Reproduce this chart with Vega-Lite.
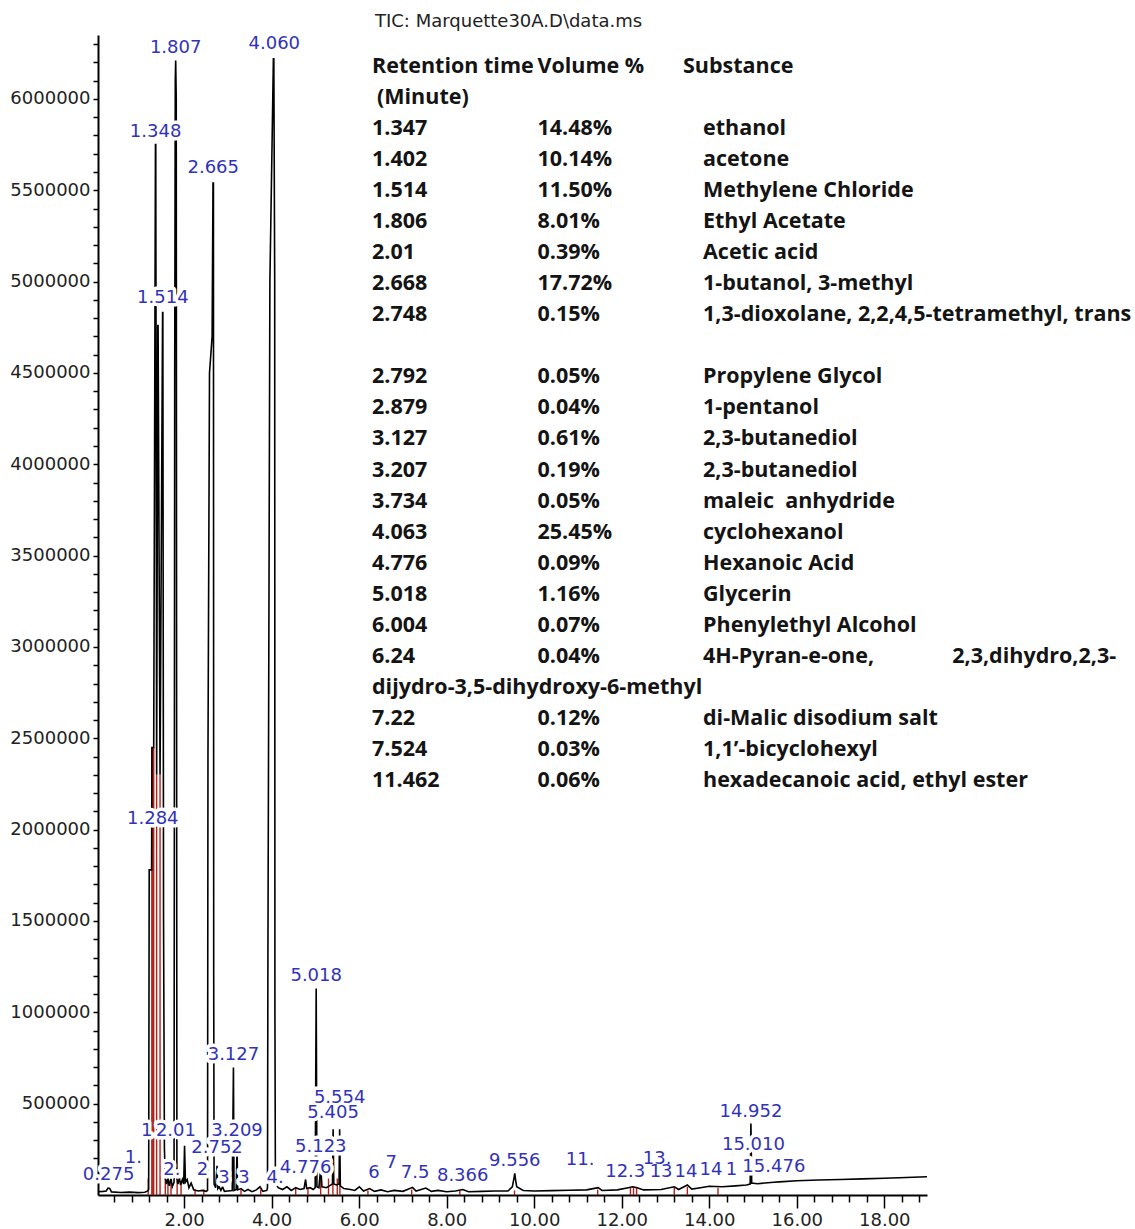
{
  "$schema": "https://vega.github.io/schema/vega-lite/v6.json",
  "width": 829,
  "height": 1160,
  "autosize": {"type": "none"},
  "padding": {"left": 98, "top": 35, "right": 208, "bottom": 34},
  "background": "white",
  "config": {"view": {"stroke": null}},
  "title": {
    "text": "TIC: Marquette30A.D\\data.ms",
    "anchor": "start",
    "frame": "group",
    "dx": 277,
    "offset": 4,
    "font": "DejaVu Sans",
    "fontSize": 18,
    "fontWeight": "normal",
    "color": "#222222"
  },
  "datasets": {
    "signal": [
      {"rt": 0.032, "tic": 18000}, {"rt": 0.15, "tic": 20000}, {"rt": 0.22, "tic": 22000},
      {"rt": 0.26, "tic": 38000}, {"rt": 0.30, "tic": 36000}, {"rt": 0.34, "tic": 17000},
      {"rt": 0.55, "tic": 14000}, {"rt": 0.75, "tic": 16000}, {"rt": 0.95, "tic": 13000},
      {"rt": 1.10, "tic": 15000}, {"rt": 1.17, "tic": 22000}, {"rt": 1.19, "tic": 30000},
      {"rt": 1.202, "tic": 1780000}, {"rt": 1.257, "tic": 1780000}, {"rt": 1.265, "tic": 2450000},
      {"rt": 1.305, "tic": 2450000}, {"rt": 1.345, "tic": 5750000}, {"rt": 1.352, "tic": 5750000},
      {"rt": 1.372, "tic": 2300000}, {"rt": 1.398, "tic": 4760000}, {"rt": 1.405, "tic": 4760000},
      {"rt": 1.45, "tic": 2300000}, {"rt": 1.508, "tic": 4830000}, {"rt": 1.514, "tic": 4830000},
      {"rt": 1.53, "tic": 1500000}, {"rt": 1.55, "tic": 250000}, {"rt": 1.57, "tic": 90000},
      {"rt": 1.60, "tic": 60000}, {"rt": 1.63, "tic": 95000}, {"rt": 1.66, "tic": 50000},
      {"rt": 1.70, "tic": 90000}, {"rt": 1.73, "tic": 45000}, {"rt": 1.77, "tic": 70000},
      {"rt": 1.785, "tic": 4500000}, {"rt": 1.798, "tic": 6100000}, {"rt": 1.807, "tic": 6210000},
      {"rt": 1.82, "tic": 6000000}, {"rt": 1.835, "tic": 90000}, {"rt": 1.86, "tic": 60000},
      {"rt": 1.89, "tic": 95000}, {"rt": 1.92, "tic": 55000}, {"rt": 1.96, "tic": 85000},
      {"rt": 1.99, "tic": 60000}, {"rt": 2.01, "tic": 270000}, {"rt": 2.03, "tic": 70000},
      {"rt": 2.07, "tic": 85000}, {"rt": 2.11, "tic": 40000}, {"rt": 2.16, "tic": 65000},
      {"rt": 2.22, "tic": 28000}, {"rt": 2.32, "tic": 22000}, {"rt": 2.42, "tic": 25000},
      {"rt": 2.50, "tic": 20000}, {"rt": 2.535, "tic": 25000}, {"rt": 2.545, "tic": 2400000},
      {"rt": 2.58, "tic": 4500000}, {"rt": 2.64, "tic": 4700000}, {"rt": 2.66, "tic": 5540000},
      {"rt": 2.670, "tic": 5540000}, {"rt": 2.676, "tic": 1200000}, {"rt": 2.685, "tic": 60000},
      {"rt": 2.72, "tic": 40000}, {"rt": 2.752, "tic": 160000}, {"rt": 2.77, "tic": 35000},
      {"rt": 2.80, "tic": 45000}, {"rt": 2.84, "tic": 25000}, {"rt": 2.879, "tic": 45000},
      {"rt": 2.92, "tic": 20000}, {"rt": 3.00, "tic": 22000}, {"rt": 3.10, "tic": 25000},
      {"rt": 3.127, "tic": 698000}, {"rt": 3.14, "tic": 25000}, {"rt": 3.19, "tic": 30000},
      {"rt": 3.209, "tic": 250000}, {"rt": 3.225, "tic": 28000}, {"rt": 3.30, "tic": 35000},
      {"rt": 3.38, "tic": 20000}, {"rt": 3.46, "tic": 30000}, {"rt": 3.55, "tic": 18000},
      {"rt": 3.65, "tic": 28000}, {"rt": 3.734, "tic": 45000}, {"rt": 3.80, "tic": 20000},
      {"rt": 3.89, "tic": 25000}, {"rt": 3.905, "tic": 40000}, {"rt": 3.915, "tic": 1300000},
      {"rt": 3.96, "tic": 5000000}, {"rt": 4.04, "tic": 6220000}, {"rt": 4.05, "tic": 6220000},
      {"rt": 4.07, "tic": 5000000}, {"rt": 4.075, "tic": 1000000}, {"rt": 4.085, "tic": 150000},
      {"rt": 4.10, "tic": 60000}, {"rt": 4.15, "tic": 40000}, {"rt": 4.25, "tic": 30000},
      {"rt": 4.35, "tic": 45000}, {"rt": 4.45, "tic": 25000}, {"rt": 4.55, "tic": 40000},
      {"rt": 4.65, "tic": 30000}, {"rt": 4.74, "tic": 35000}, {"rt": 4.776, "tic": 85000},
      {"rt": 4.80, "tic": 35000}, {"rt": 4.88, "tic": 40000}, {"rt": 4.95, "tic": 30000},
      {"rt": 4.995, "tic": 40000}, {"rt": 5.018, "tic": 1130000}, {"rt": 5.035, "tic": 45000},
      {"rt": 5.08, "tic": 40000}, {"rt": 5.123, "tic": 150000}, {"rt": 5.15, "tic": 45000},
      {"rt": 5.25, "tic": 40000}, {"rt": 5.32, "tic": 50000}, {"rt": 5.39, "tic": 60000},
      {"rt": 5.405, "tic": 360000}, {"rt": 5.42, "tic": 60000}, {"rt": 5.48, "tic": 55000},
      {"rt": 5.54, "tic": 60000}, {"rt": 5.554, "tic": 360000}, {"rt": 5.57, "tic": 50000},
      {"rt": 5.65, "tic": 35000}, {"rt": 5.80, "tic": 30000}, {"rt": 5.90, "tic": 25000},
      {"rt": 6.004, "tic": 45000}, {"rt": 6.10, "tic": 22000}, {"rt": 6.24, "tic": 35000},
      {"rt": 6.35, "tic": 20000}, {"rt": 6.50, "tic": 28000}, {"rt": 6.65, "tic": 18000},
      {"rt": 6.80, "tic": 25000}, {"rt": 7.00, "tic": 20000}, {"rt": 7.22, "tic": 42000},
      {"rt": 7.30, "tic": 22000}, {"rt": 7.524, "tic": 38000}, {"rt": 7.65, "tic": 20000},
      {"rt": 7.80, "tic": 25000}, {"rt": 8.00, "tic": 18000}, {"rt": 8.20, "tic": 22000},
      {"rt": 8.366, "tic": 30000}, {"rt": 8.50, "tic": 18000}, {"rt": 8.80, "tic": 20000},
      {"rt": 9.10, "tic": 22000}, {"rt": 9.40, "tic": 22000}, {"rt": 9.50, "tic": 45000},
      {"rt": 9.54, "tic": 95000}, {"rt": 9.556, "tic": 118000}, {"rt": 9.57, "tic": 90000},
      {"rt": 9.60, "tic": 45000}, {"rt": 9.75, "tic": 25000}, {"rt": 10.00, "tic": 22000},
      {"rt": 10.40, "tic": 24000}, {"rt": 10.80, "tic": 26000}, {"rt": 11.20, "tic": 28000},
      {"rt": 11.462, "tic": 40000}, {"rt": 11.55, "tic": 25000}, {"rt": 11.90, "tic": 28000},
      {"rt": 12.15, "tic": 40000}, {"rt": 12.25, "tic": 45000}, {"rt": 12.35, "tic": 40000},
      {"rt": 12.50, "tic": 28000}, {"rt": 12.90, "tic": 30000}, {"rt": 13.20, "tic": 45000},
      {"rt": 13.30, "tic": 30000}, {"rt": 13.50, "tic": 55000}, {"rt": 13.60, "tic": 32000},
      {"rt": 13.80, "tic": 40000}, {"rt": 14.00, "tic": 48000}, {"rt": 14.30, "tic": 45000},
      {"rt": 14.60, "tic": 50000}, {"rt": 14.85, "tic": 55000}, {"rt": 14.935, "tic": 60000},
      {"rt": 14.952, "tic": 392000}, {"rt": 14.97, "tic": 65000}, {"rt": 15.10, "tic": 62000},
      {"rt": 15.476, "tic": 70000}, {"rt": 15.60, "tic": 72000}, {"rt": 16.00, "tic": 78000},
      {"rt": 16.50, "tic": 82000}, {"rt": 17.00, "tic": 85000}, {"rt": 17.50, "tic": 88000},
      {"rt": 18.00, "tic": 92000}, {"rt": 18.50, "tic": 96000}, {"rt": 18.976, "tic": 100000}
    ],
    "drops": [
      {"rt": 1.262, "top": 2450000}, {"rt": 1.284, "top": 2450000}, {"rt": 1.305, "top": 2450000},
      {"rt": 1.372, "top": 2300000}, {"rt": 1.45, "top": 2300000}, {"rt": 1.18, "top": 90000},
      {"rt": 1.57, "top": 90000}, {"rt": 1.63, "top": 90000}, {"rt": 1.70, "top": 85000},
      {"rt": 1.84, "top": 80000}, {"rt": 1.93, "top": 70000}, {"rt": 2.25, "top": 30000},
      {"rt": 2.45, "top": 30000}, {"rt": 3.30, "top": 30000}, {"rt": 3.75, "top": 30000},
      {"rt": 4.55, "top": 35000}, {"rt": 4.83, "top": 40000}, {"rt": 5.12, "top": 90000},
      {"rt": 5.30, "top": 90000}, {"rt": 5.40, "top": 90000}, {"rt": 5.50, "top": 90000},
      {"rt": 5.56, "top": 90000}, {"rt": 6.20, "top": 25000}, {"rt": 7.20, "top": 30000},
      {"rt": 8.30, "top": 25000}, {"rt": 9.55, "top": 25000}, {"rt": 11.45, "top": 30000},
      {"rt": 12.20, "top": 45000}, {"rt": 12.27, "top": 45000}, {"rt": 12.34, "top": 45000},
      {"rt": 13.20, "top": 40000}, {"rt": 13.50, "top": 45000}, {"rt": 14.20, "top": 40000}
    ],
    "peaks": [
      {"label": "1.807", "rt": 1.807, "level": 6280000},
      {"label": "4.060", "rt": 4.060, "level": 6300000},
      {"label": "1.348", "rt": 1.348, "level": 5820000},
      {"label": "2.665", "rt": 2.665, "level": 5620000},
      {"label": "1.514", "rt": 1.514, "level": 4910000},
      {"label": "1.284", "rt": 1.284, "level": 2060000},
      {"label": "5.018", "rt": 5.018, "level": 1200000},
      {"label": "3.127", "rt": 3.127, "level": 766000},
      {"label": "5.554", "rt": 5.554, "level": 531000},
      {"label": "5.405", "rt": 5.405, "level": 449000},
      {"label": "14.952", "rt": 14.952, "level": 456000},
      {"label": "1", "rt": 1.143, "level": 350000},
      {"label": "2.01", "rt": 1.813, "level": 350000},
      {"label": "3.209", "rt": 3.209, "level": 350000},
      {"label": "2.752", "rt": 2.752, "level": 257000},
      {"label": "5.123", "rt": 5.123, "level": 263000},
      {"label": "15.010", "rt": 15.010, "level": 274000},
      {"label": "1.", "rt": 0.84, "level": 203000},
      {"label": "9.556", "rt": 9.556, "level": 186000},
      {"label": "11.", "rt": 11.05, "level": 192000},
      {"label": "13.", "rt": 12.81, "level": 197000},
      {"label": "7", "rt": 6.73, "level": 175000},
      {"label": "4.776", "rt": 4.776, "level": 148000},
      {"label": "15.476", "rt": 15.476, "level": 153000},
      {"label": "2.", "rt": 1.72, "level": 137000},
      {"label": "2", "rt": 2.42, "level": 137000},
      {"label": "14", "rt": 14.04, "level": 137000},
      {"label": "1", "rt": 14.51, "level": 137000},
      {"label": "0.275", "rt": 0.275, "level": 109000},
      {"label": "12.3", "rt": 12.08, "level": 126000},
      {"label": "13", "rt": 12.9, "level": 126000},
      {"label": "14", "rt": 13.47, "level": 126000},
      {"label": "6", "rt": 6.34, "level": 120000},
      {"label": "7.5", "rt": 7.28, "level": 120000},
      {"label": "8.366", "rt": 8.366, "level": 104000},
      {"label": "3", "rt": 2.91, "level": 93000},
      {"label": "3", "rt": 3.37, "level": 93000},
      {"label": "4.", "rt": 4.08, "level": 93000}
    ],
    "table": [
      {"row": 0, "col": 0, "text": "Retention time"}, {"row": 0, "col": 1, "text": "Volume %"}, {"row": 0, "col": 2, "text": "Substance"},
      {"row": 1, "col": 0, "text": "(Minute)"},
      {"row": 2, "col": 0, "text": "1.347"}, {"row": 2, "col": 1, "text": "14.48%"}, {"row": 2, "col": 2, "text": "ethanol"},
      {"row": 3, "col": 0, "text": "1.402"}, {"row": 3, "col": 1, "text": "10.14%"}, {"row": 3, "col": 2, "text": "acetone"},
      {"row": 4, "col": 0, "text": "1.514"}, {"row": 4, "col": 1, "text": "11.50%"}, {"row": 4, "col": 2, "text": "Methylene Chloride"},
      {"row": 5, "col": 0, "text": "1.806"}, {"row": 5, "col": 1, "text": "8.01%"}, {"row": 5, "col": 2, "text": "Ethyl Acetate"},
      {"row": 6, "col": 0, "text": "2.01"}, {"row": 6, "col": 1, "text": "0.39%"}, {"row": 6, "col": 2, "text": "Acetic acid"},
      {"row": 7, "col": 0, "text": "2.668"}, {"row": 7, "col": 1, "text": "17.72%"}, {"row": 7, "col": 2, "text": "1-butanol, 3-methyl"},
      {"row": 8, "col": 0, "text": "2.748"}, {"row": 8, "col": 1, "text": "0.15%"}, {"row": 8, "col": 2, "text": "1,3-dioxolane, 2,2,4,5-tetramethyl, trans"},
      {"row": 10, "col": 0, "text": "2.792"}, {"row": 10, "col": 1, "text": "0.05%"}, {"row": 10, "col": 2, "text": "Propylene Glycol"},
      {"row": 11, "col": 0, "text": "2.879"}, {"row": 11, "col": 1, "text": "0.04%"}, {"row": 11, "col": 2, "text": "1-pentanol"},
      {"row": 12, "col": 0, "text": "3.127"}, {"row": 12, "col": 1, "text": "0.61%"}, {"row": 12, "col": 2, "text": "2,3-butanediol"},
      {"row": 13, "col": 0, "text": "3.207"}, {"row": 13, "col": 1, "text": "0.19%"}, {"row": 13, "col": 2, "text": "2,3-butanediol"},
      {"row": 14, "col": 0, "text": "3.734"}, {"row": 14, "col": 1, "text": "0.05%"}, {"row": 14, "col": 2, "text": "maleic\u00a0\u00a0anhydride"},
      {"row": 15, "col": 0, "text": "4.063"}, {"row": 15, "col": 1, "text": "25.45%"}, {"row": 15, "col": 2, "text": "cyclohexanol"},
      {"row": 16, "col": 0, "text": "4.776"}, {"row": 16, "col": 1, "text": "0.09%"}, {"row": 16, "col": 2, "text": "Hexanoic Acid"},
      {"row": 17, "col": 0, "text": "5.018"}, {"row": 17, "col": 1, "text": "1.16%"}, {"row": 17, "col": 2, "text": "Glycerin"},
      {"row": 18, "col": 0, "text": "6.004"}, {"row": 18, "col": 1, "text": "0.07%"}, {"row": 18, "col": 2, "text": "Phenylethyl Alcohol"},
      {"row": 19, "col": 0, "text": "6.24"}, {"row": 19, "col": 1, "text": "0.04%"}, {"row": 19, "col": 2, "text": "4H-Pyran-e-one,\u00a0\u00a0\u00a0\u00a0\u00a0\u00a0\u00a0\u00a0\u00a0\u00a0\u00a0\u00a0\u00a0\u00a02,3,dihydro,2,3-"},
      {"row": 20, "col": 0, "text": "dijydro-3,5-dihydroxy-6-methyl"},
      {"row": 21, "col": 0, "text": "7.22"}, {"row": 21, "col": 1, "text": "0.12%"}, {"row": 21, "col": 2, "text": "di-Malic disodium salt"},
      {"row": 22, "col": 0, "text": "7.524"}, {"row": 22, "col": 1, "text": "0.03%"}, {"row": 22, "col": 2, "text": "1,1\u2019-bicyclohexyl"},
      {"row": 23, "col": 0, "text": "11.462"}, {"row": 23, "col": 1, "text": "0.06%"}, {"row": 23, "col": 2, "text": "hexadecanoic acid, ethyl ester"}
    ]
  },
  "resolve": {"scale": {"x": "independent", "y": "independent"}},
  "layer": [
    {
      "data": {"name": "drops"},
      "mark": {"type": "rule", "color": "#b3201a", "strokeWidth": 1.4},
      "encoding": {
        "x": {
          "field": "rt", "type": "quantitative",
          "scale": {"domain": [0.032, 18.976], "nice": false, "zero": false},
          "axis": {
            "orient": "bottom", "zindex": 0, "title": null, "grid": false, "labels": false, "domain": false,
            "tickColor": "black", "tickWidth": 1.5, "tickSize": 7,
            "values": [0.4, 0.8, 1.2, 1.6, 2.4, 2.8, 3.2, 3.6, 4.4, 4.8, 5.2, 5.6, 6.4, 6.8, 7.2, 7.6, 8.4, 8.8, 9.2, 9.6, 10.4, 10.8, 11.2, 11.6, 12.4, 12.8, 13.2, 13.6, 14.4, 14.8, 15.2, 15.6, 16.4, 16.8, 17.2, 17.6, 18.4, 18.8]
          }
        },
        "y": {
          "field": "top", "type": "quantitative",
          "scale": {"domain": [0, 6350000], "nice": false, "zero": false},
          "axis": {
            "orient": "left", "zindex": 0, "title": null, "grid": false, "labels": false, "domain": false,
            "tickColor": "black", "tickWidth": 1.5, "tickSize": 5,
            "values": [100000, 200000, 300000, 400000, 600000, 700000, 800000, 900000, 1100000, 1200000, 1300000, 1400000, 1600000, 1700000, 1800000, 1900000, 2100000, 2200000, 2300000, 2400000, 2600000, 2700000, 2800000, 2900000, 3100000, 3200000, 3300000, 3400000, 3600000, 3700000, 3800000, 3900000, 4100000, 4200000, 4300000, 4400000, 4600000, 4700000, 4800000, 4900000, 5100000, 5200000, 5300000, 5400000, 5600000, 5700000, 5800000, 5900000, 6100000, 6200000, 6300000]
          }
        },
        "y2": {"datum": 0}
      }
    },
    {
      "data": {"name": "signal"},
      "mark": {"type": "line", "color": "black", "strokeWidth": 1.6, "interpolate": "linear"},
      "encoding": {
        "x": {
          "field": "rt", "type": "quantitative",
          "scale": {"domain": [0.032, 18.976], "nice": false, "zero": false},
          "axis": {
            "orient": "bottom", "zindex": 0, "title": null, "grid": false,
            "values": [2, 4, 6, 8, 10, 12, 14, 16, 18], "format": ".2f",
            "domainColor": "black", "domainWidth": 2,
            "tickColor": "black", "tickWidth": 1.5, "tickSize": 13,
            "labelFont": "DejaVu Sans", "labelFontSize": 18, "labelColor": "#222222", "labelPadding": 3, "labelFlush": false
          }
        },
        "y": {
          "field": "tic", "type": "quantitative",
          "scale": {"domain": [0, 6350000], "nice": false, "zero": false},
          "axis": {
            "orient": "left", "zindex": 0, "title": null, "grid": false,
            "values": [500000, 1000000, 1500000, 2000000, 2500000, 3000000, 3500000, 4000000, 4500000, 5000000, 5500000, 6000000],
            "format": "d",
            "domainColor": "black", "domainWidth": 2,
            "tickColor": "black", "tickWidth": 1.5, "tickSize": 5,
            "labelFont": "DejaVu Sans", "labelFontSize": 18, "labelColor": "#222222", "labelPadding": 3, "labelFlush": false
          }
        }
      }
    },
    {
      "data": {"name": "peaks"},
      "mark": {"type": "text", "font": "DejaVu Sans", "fontSize": 18, "align": "center", "baseline": "middle", "fill": "white", "stroke": "white", "strokeWidth": 7, "strokeJoin": "round"},
      "encoding": {
        "x": {"field": "rt", "type": "quantitative", "scale": {"domain": [0.032, 18.976], "nice": false, "zero": false}, "axis": null},
        "y": {"field": "level", "type": "quantitative", "scale": {"domain": [0, 6350000], "nice": false, "zero": false}, "axis": null},
        "text": {"field": "label"}
      }
    },
    {
      "data": {"name": "peaks"},
      "mark": {"type": "text", "font": "DejaVu Sans", "fontSize": 18, "align": "center", "baseline": "middle", "fill": "#3232b8"},
      "encoding": {
        "x": {"field": "rt", "type": "quantitative", "scale": {"domain": [0.032, 18.976], "nice": false, "zero": false}, "axis": null},
        "y": {"field": "level", "type": "quantitative", "scale": {"domain": [0, 6350000], "nice": false, "zero": false}, "axis": null},
        "text": {"field": "label"}
      }
    },
    {
      "data": {"name": "table"},
      "mark": {
        "type": "text", "font": "Open Sans", "fontWeight": "bold", "fontSize": 21.5, "align": "left", "baseline": "middle", "fill": "#141414",
        "dx": {"expr": "datum.row === 0 && datum.col === 2 ? -20 : (datum.row === 1 ? 5 : 0)"}
      },
      "encoding": {
        "x": {"field": "col", "type": "quantitative", "scale": {"domain": [-1.6556, 3.3535], "nice": false, "zero": false}, "axis": null},
        "y": {"field": "row", "type": "quantitative", "scale": {"domain": [-1.0309, 36.34], "nice": false, "zero": false, "reverse": true}, "axis": null},
        "text": {"field": "text"}
      }
    }
  ]
}
